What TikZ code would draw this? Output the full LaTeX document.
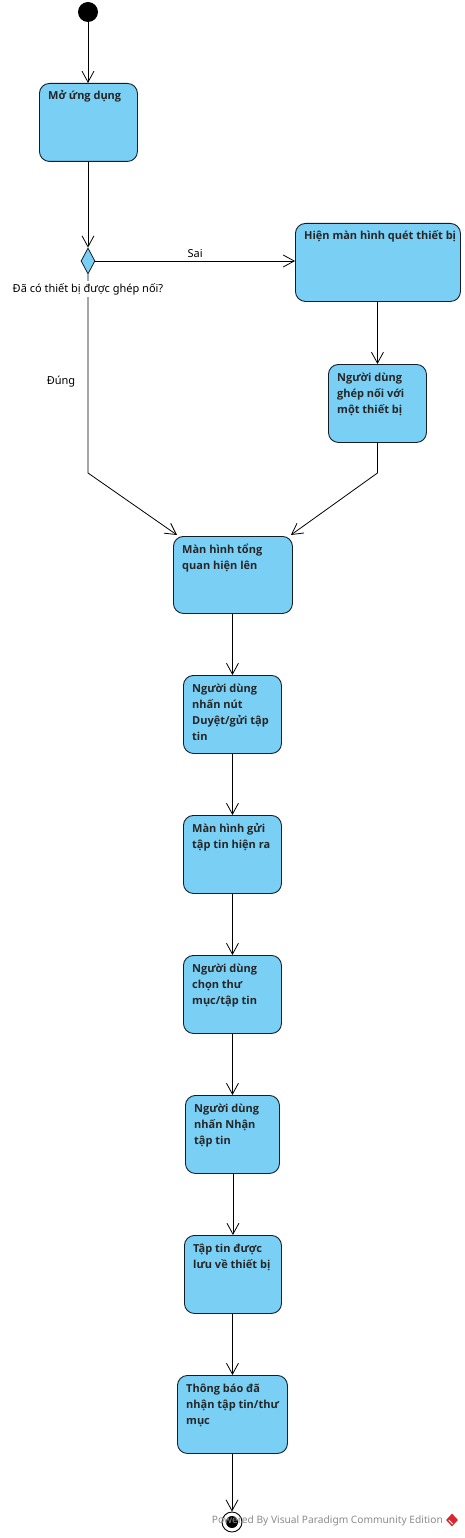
\documentclass[tikz,border=0pt]{standalone}
\usepackage{fontspec}
\setmainfont{Noto Sans}
\newfontfamily\boxfont{Open Sans}
\usetikzlibrary{arrows.meta,shapes.geometric}
\definecolor{vpblue}{RGB}{122,207,245}
\definecolor{vpborder}{RGB}{20,30,40}
\definecolor{wmgray}{RGB}{140,140,140}
\definecolor{vpred}{RGB}{215,40,50}
\tikzset{
  actbox/.style={draw=vpborder, fill=vpblue, rounded corners=10pt, line width=0.9pt, inner sep=0pt, anchor=north west},
  acttext/.style={anchor=base west, inner sep=0pt, text=black!85},
  flow/.style={line width=0.8pt, line join=round, -{Straight Barb[length=11pt,width=12pt,line width=0.8pt]}},
  plain/.style={line width=0.8pt},
  guard/.style={inner sep=1pt, font=\fontsize{11}{13}\selectfont},
}
\newcommand{\actbox}[6]{%
  \node[actbox, minimum width=#4pt, minimum height=#5pt] (#1) at (#2,#3) {};
  \node[acttext] (#1t) at ([xshift=9pt,yshift=-17pt]#1.north west)
    {\parbox[t]{200pt}{\raggedright\boxfont\bfseries\fontsize{11}{16}\selectfont #6}};
}
\begin{document}
\begin{tikzpicture}[x=1pt,y=-1pt]
\useasboundingbox[fill=white] (0,0) rectangle (465,1538);

% initial node
\node[circle, fill=black, minimum size=20pt, inner sep=0pt] (init) at (88,12) {};

% activities
\actbox{b1}{39}{83}{98}{78}{Mở ứng dụng}
\node[diamond, draw=vpborder, fill=vpblue, line width=0.8pt, minimum width=14pt, minimum height=26pt, inner sep=0pt] (dec) at (88,261) {};
\actbox{b2}{295}{223}{165}{78}{Hiện màn hình quét thiết bị}
\actbox{b3}{328}{364}{98}{78}{Người dùng\\ghép nối với\\một thiết bị}
\actbox{b4}{173}{536}{119}{77}{Màn hình tổng\\quan hiện lên}
\actbox{b5}{183}{675}{98}{78}{Người dùng\\nhấn nút\\Duyệt/gửi tập\\tin}
\actbox{b6}{183}{815}{98}{78}{Màn hình gửi\\tập tin hiện ra}
\actbox{b7}{183}{955}{98}{78}{Người dùng\\chọn thư\\mục/tập tin}
\actbox{b8}{185}{1095}{94}{78}{Người dùng\\nhấn Nhận\\tập tin}
\actbox{b9}{184}{1235}{97}{78}{Tập tin được\\lưu về thiết bị}
\actbox{b10}{177}{1375}{110}{78}{Thông báo đã\\nhận tập tin/thư\\mục}

% final node
\node[circle, draw=black, line width=0.9pt, fill=white, minimum size=20pt, inner sep=0pt] (final) at (232,1522) {};
\node[circle, fill=black, minimum size=12pt, inner sep=0pt] (finalin) at (final) {};

% junction points
\coordinate (jl) at (88,473);
\coordinate (jr) at (b3.south |- jl);

% connectors
\draw[flow] (init) -- (init |- b1.north);
\draw[flow] (b1.south -| dec) -- (dec.north);
\draw[flow] (dec.east) -- (dec.east -| b2.west) node[midway, above, guard, yshift=2pt] (sai) {Sai};
\draw[flow] (b3.north |- b2.south) -- (b3.north);
\draw[flow] (b3.south) -- (jr) -- ([xshift=-2pt,yshift=1pt]b4.north east);
\draw[flow] (dec.south) -- (jl) -- ([xshift=4pt,yshift=1pt]b4.north west);
\draw[flow] (b5.north |- b4.south) -- (b5.north);
\draw[flow] (b6.north |- b5.south) -- (b6.north);
\draw[flow] (b7.north |- b6.south) -- (b7.north);
\draw[flow] (b8.north |- b7.south) -- (b8.north);
\draw[flow] (b9.north |- b8.south) -- (b9.north);
\draw[flow] (b10.north |- b9.south) -- (b10.north);
\draw[flow] (final |- b10.south) -- (final.north);

% guard labels
\node[guard, fill=white, inner sep=2pt] (declabel) at (88,289) {Đã có thiết bị được ghép nối?};
\node[guard] (dung) at (61,382) {Đúng};

% watermark
\node[inner sep=0pt, font=\fontsize{10.2}{12}\selectfont, text=wmgray, anchor=east] (wm) at (443,1521) {Powered By Visual Paradigm Community Edition};
\node[diamond, fill=vpred, minimum width=12pt, minimum height=13pt, inner sep=0pt] (logo) at (452,1520) {};
\draw[white, line width=1pt] (logo.west) ++(3pt,0) -- ++(4pt,-4pt);
\end{tikzpicture}
\end{document}
